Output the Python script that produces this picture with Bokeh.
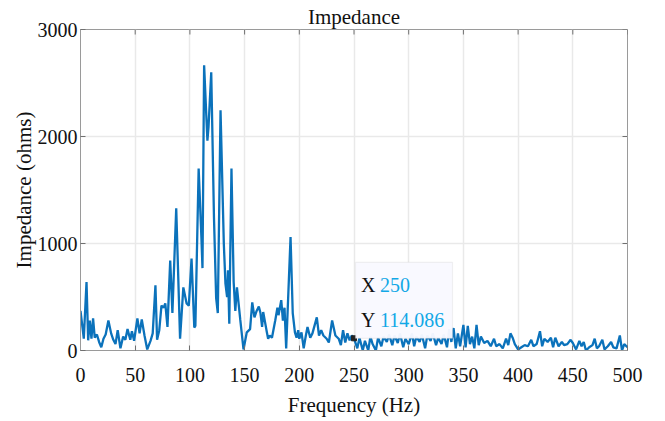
from bokeh.plotting import figure
from bokeh.models import Range1d, FixedTicker, Label, BoxAnnotation
from bokeh.embed import file_html
from bokeh.resources import INLINE

# ---- data ----
freq_hz = [0, 2, 3, 5.5, 7, 8.5, 10, 11.5, 13, 15, 17, 19, 21, 23, 25.5, 28, 30, 32, 34, 36.5,
           39, 41, 43, 45.5, 47, 49, 52, 54, 56, 58.5, 61, 64, 66, 68.5, 70, 72, 74, 76, 77.5, 79.5,
           82, 84, 87.5, 91, 94, 97, 99, 101.5, 104, 105, 108, 110.5, 111.5, 113, 116, 117, 119.5,
           122, 124, 125.5, 128, 131, 132.5, 134, 134.8, 136, 138, 140, 141.5, 143, 146, 149, 152,
           155, 157, 159, 161, 163, 164.5, 166, 167, 170, 171.5, 173, 175, 178, 180, 181, 183.5, 185,
           186.5, 188, 192, 194, 196, 197.5, 199, 200, 202, 204, 206, 207.5, 210, 212, 216, 218, 220,
           222, 225, 227, 230, 233, 236, 238, 240, 242, 244, 246, 248, 250, 253, 255, 258, 260, 263,
           265, 267, 270, 272, 275, 277, 280, 282, 285, 287, 290, 292, 295, 297, 300, 303, 305, 307,
           310, 312, 315, 317, 320, 322, 325, 327, 330, 332, 335, 337, 339, 341, 343, 345, 347, 350,
           352, 354, 356, 358, 360, 362, 364, 366, 369, 372, 375, 378, 380, 383, 386, 389, 391, 393,
           395, 397, 400, 403, 406, 409, 412, 414, 417, 420, 422, 424, 427, 430, 432, 434, 437, 440,
           442, 445, 448, 450, 453, 456, 458, 460, 462, 465, 468, 470, 472, 474, 477, 479, 482, 485,
           487, 490, 493, 495, 497, 500]
impedance_ohms = [370, 200, 110, 640, 95, 280, 110, 300, 120, 150, 80, 30, 110, 150, 280, 160, 100, 60, 190, 20,
                  130, 100, 200, 100, 180, 90, 300, 160, 290, 140, 10, 90, 160, 610, 100, 190, 420, 400, 440, 220,
                  840, 350, 1330, 110, 590, 440, 420, 860, 215, 230, 1700, 1060, 770, 2665, 1960, 2085, 2600,
                  1245, 490, 350, 2245, 1000, 625, 500, 750, 250, 1700, 640, 370, 590, 290, 10, 170,
                  200, 450, 310, 370, 410, 350, 220, 360, 190, 110, 140, 120, 280, 400, 330, 470, 280,
                  400, 20, 1060, 350, 170, 120, 190, 110, 170, 20, 140, 220, 120, 160, 310, 140, 190,
                  140, 110, 75, 280, 140, 110, 50, 190, 75, 160, 95, 140, 114.086, 20, 120, 0, 90, 0,
                  130, 60, 0, 120, 40, 130, 80, 150, 50, 140, 70, 160, 30, 110, 60, 160, 40, 130,
                  80, 150, 20, 140, 90, 160, 50, 120, 60, 150, 30, 200, 80, 210, 20, 160, 40, 240,
                  30, 230, 60, 130, 20, 240, 50, 130, 70, 90, 40, 110, 40, 60, 20, 110, 50, 160,
                  120, 60, 10, 30, 50, 40, 100, 40, 60, 180, 40, 110, 80, 120, 30, 120, 40, 80,
                  50, 60, 100, 70, 10, 90, 40, 80, 0, 30, 50, 110, 20, 40, 100, 10, 40, 80,
                  30, 20, 140, 0, 60, 30]
x_ticks = [0, 50, 100, 150, 200, 250, 300, 350, 400, 450, 500]
y_ticks = [0, 1000, 2000, 3000]
x_limits = (0, 500)
y_limits = (0, 3000)
tip_x = 250
tip_y = 114.086

title_text = "Impedance"
x_label = "Frequency (Hz)"
y_label = "Impedance (ohms)"

# ---- layout / style ----
W, H = 660, 421
ML, MR, MT, MB = 80, 33, 29, 71
FRAME_W = W - ML - MR
FRAME_H = H - MT - MB
FONT = "Liberation Serif"
AX_COL = "#9a9a9a"
TICK_COL = "#707070"
GRID_COL = "#e9e9e9"
LINE_COL = "#0b72bb"
TIP_COL = "#12a8e6"
TICK_LEN = 5

p = figure(width=W, height=H, output_backend="svg", toolbar_location=None,
           x_range=Range1d(*x_limits), y_range=Range1d(*y_limits),
           min_border_left=ML, min_border_right=MR, min_border_top=MT, min_border_bottom=MB,
           x_axis_label=x_label, y_axis_label=y_label, title=title_text)
p.background_fill_color = "white"
p.border_fill_color = "white"
p.outline_line_color = AX_COL

p.title.text_font = FONT
p.title.text_font_size = "21px"
p.title.text_font_style = "normal"
p.title.text_color = "#111111"
p.title.align = "center"
p.title.standoff = 2

xt = FixedTicker(ticks=x_ticks)
yt = FixedTicker(ticks=y_ticks)

for ax in (p.xaxis[0], p.yaxis[0]):
    ax.axis_line_color = AX_COL
    ax.major_tick_line_color = TICK_COL
    ax.major_tick_in = TICK_LEN
    ax.major_tick_out = 0
    ax.minor_tick_line_color = None
    ax.major_label_text_font = FONT
    ax.major_label_text_font_size = "20px"
    ax.major_label_text_color = "#111111"
    ax.axis_label_text_font = FONT
    ax.axis_label_text_font_size = "21px"
    ax.axis_label_text_font_style = "normal"
    ax.axis_label_text_color = "#111111"
p.xaxis[0].ticker = xt
p.yaxis[0].ticker = yt
p.xaxis[0].major_label_standoff = 17
p.xaxis[0].axis_label_standoff = 8
p.yaxis[0].major_label_standoff = 3
p.yaxis[0].axis_label_standoff = -1

p.xgrid.ticker = xt
p.ygrid.ticker = yt
p.xgrid.grid_line_color = GRID_COL
p.ygrid.grid_line_color = GRID_COL
p.xgrid.grid_line_width = 1.5
p.ygrid.grid_line_width = 1.5

# inward ticks on the top and right edges of the box (derived from the tick lists)
px_x = (x_limits[1] - x_limits[0]) / FRAME_W
px_y = (y_limits[1] - y_limits[0]) / FRAME_H
p.segment(x0=x_ticks, y0=[y_limits[1]] * len(x_ticks), x1=x_ticks,
          y1=[y_limits[1] - TICK_LEN * px_y] * len(x_ticks), line_color=TICK_COL, line_width=1)
p.segment(x0=[x_limits[1]] * len(y_ticks), y0=y_ticks, x1=[x_limits[1] - TICK_LEN * px_x] * len(y_ticks),
          y1=y_ticks, line_color=TICK_COL, line_width=1)

p.line(freq_hz, impedance_ohms, line_color=LINE_COL, line_width=2.3)

# datatip
p.add_layout(BoxAnnotation(left=tip_x + 1.5 * px_x, right=tip_x + 98.5 * px_x,
                           bottom=tip_y, top=tip_y + 76 * px_y,
                           fill_color="#f9f9ff", fill_alpha=0.96,
                           line_color="#cfcfcf", line_width=1.2))
p.scatter([tip_x], [tip_y], marker="square", size=5, color="#222222")
for txt, dx, dy, col in (("X", 7, 53, "#111111"), (f"{tip_x}", 26, 53, TIP_COL),
                         ("Y", 7, 18, "#111111"), (f"{tip_y}", 26, 18, TIP_COL)):
    p.add_layout(Label(x=tip_x, y=tip_y, x_offset=dx, y_offset=dy, text=txt, text_font=FONT,
                       text_font_size="20px", text_color=col, text_baseline="alphabetic"))

open("out.html", "w").write(file_html(p, INLINE))
